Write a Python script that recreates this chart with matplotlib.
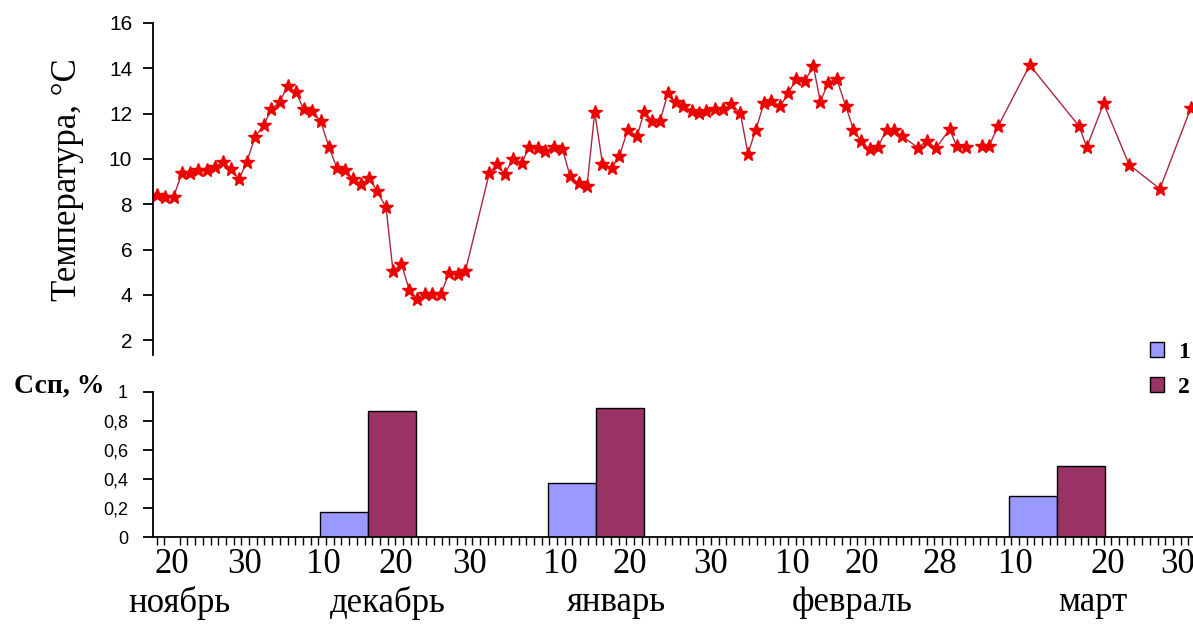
import matplotlib
matplotlib.use("Agg")
import matplotlib.pyplot as plt
import numpy as np
from matplotlib.patches import Patch

# day axis: 1 = 1 Nov, 31 = 1 Dec, 62 = 1 Jan, 93 = 1 Feb, 121 = 1 Mar
line_day = [18.0, 19.1, 20.2, 21.3, 22.3, 23.4, 24.5, 25.6, 26.6, 27.7,
            28.7, 29.7, 30.8, 31.9, 32.9, 34.0, 35.0, 36.1, 37.1, 38.2,
            39.3, 40.4, 41.4, 42.5, 43.5, 44.5, 45.6, 46.6, 47.8, 48.7,
            49.8, 50.8, 51.8, 52.8, 53.8, 54.9, 56.0, 57.1, 58.1, 61.2,
            62.2, 63.2, 64.3, 65.4, 66.4, 67.5, 68.5, 69.6, 70.7, 71.7,
            72.8, 73.9, 74.9, 75.9, 77.1, 78.1, 79.2, 80.4, 81.3, 82.4,
            83.4, 84.4, 85.4, 86.4, 87.5, 88.5, 89.4, 90.5, 91.6, 92.6,
            93.8, 94.8, 95.8, 96.9, 97.8, 99.0, 100.0, 101.1, 102.2, 103.3,
            104.2, 105.2, 106.3, 107.5, 108.5, 109.5, 110.6, 111.7, 112.8, 113.8,
            114.8, 116.9, 118.0, 119.2, 121.0, 121.9, 123.1, 124.0, 125.2, 126.1,
            127.3, 131.4, 137.8, 138.8, 141.0, 144.3, 148.3, 152.3]
line_temp = [8.40, 8.33, 8.33, 9.39, 9.39, 9.50, 9.50, 9.63, 9.87, 9.54,
             9.11, 9.87, 10.98, 11.49, 12.19, 12.52, 13.22, 12.94, 12.20, 12.11,
             11.67, 10.51, 9.61, 9.50, 9.12, 8.89, 9.14, 8.60, 7.86, 5.06,
             5.36, 4.24, 3.84, 4.06, 4.02, 4.02, 4.99, 4.94, 5.05, 9.36,
             9.76, 9.33, 10.02, 9.83, 10.51, 10.47, 10.36, 10.51, 10.45, 9.24,
             8.92, 8.80, 12.06, 9.80, 9.61, 10.13, 11.30, 11.00, 12.06, 11.67,
             11.69, 12.90, 12.50, 12.35, 12.13, 12.04, 12.13, 12.20, 12.20, 12.41,
             12.04, 10.24, 11.27, 12.48, 12.57, 12.33, 12.90, 13.53, 13.45, 14.10,
             12.52, 13.34, 13.55, 12.34, 11.30, 10.78, 10.42, 10.54, 11.30, 11.27,
             11.00, 10.50, 10.80, 10.47, 11.31, 10.57, 10.54, np.nan, 10.57, 10.57,
             11.45, 14.14, 11.45, 10.52, 12.45, 9.75, 8.68, 12.23]

bar_center = [45.45, 75.1, 134.9]
ssp_1 = [0.17, 0.37, 0.28]
ssp_2 = [0.87, 0.89, 0.49]
series_names = ["1", "2"]

tick_day = [20, 29.4, 39.6, 49.1, 58.7, 70.4, 79.5, 89.9, 100.6, 109.6,
            119.7, 129.5, 141.6, 150.6]
tick_text = ["20", "30", "10", "20", "30", "10", "20", "30", "10", "20",
             "28", "10", "20", "30"]
month_day = [21.0, 48.0, 77.7, 108.4, 139.6]
month_text = ["ноябрь", "декабрь", "январь", "февраль", "март"]

SERIF = "Liberation Serif"
SANS = "Liberation Sans"
W, H = 1193, 624


def box(l, t, r, b):
    return [l / W, 1 - b / H, (r - l) / W, (b - t) / H]


fig = plt.figure(figsize=(W / 100, H / 100), dpi=100)
ax_t = fig.add_axes(box(153, 23, 1193, 355))
ax_b = fig.add_axes(box(153, 392, 1193, 537))
xlim = (17.53, 152.6)

# temperature line
ax_t.plot(line_day, line_temp, color="#A8283C", lw=1.0, marker="*", ms=10,
          mfc="#EE0000", mec="#EE0000")
ax_t.set_xlim(xlim)
ax_t.set_ylim(1.35, 16)
ax_t.set_yticks(range(2, 17, 2))
ax_t.set_xticks([])
for s in ["top", "right", "bottom"]:
    ax_t.spines[s].set_visible(False)
ax_t.spines["left"].set_linewidth(1.3)
ax_t.tick_params(axis="y", length=7, width=1.3, labelsize=15, pad=8)
for lbl in ax_t.get_yticklabels():
    lbl.set_fontfamily(SANS)

# bars
w = 6.25
c = np.array(bar_center)
ax_b.bar(c - w / 2, ssp_1, width=w, color="#9999FF", edgecolor="black", lw=1.0)
ax_b.bar(c + w / 2, ssp_2, width=w, color="#993366", edgecolor="black", lw=1.0)
ax_b.set_xlim(xlim)
ax_b.set_ylim(0, 1)
ax_b.set_yticks([0, 0.2, 0.4, 0.6, 0.8, 1.0])
ax_b.set_yticklabels(["0", "0,2", "0,4", "0,6", "0,8", "1"])
for s in ["top", "right"]:
    ax_b.spines[s].set_visible(False)
ax_b.spines["left"].set_linewidth(1.3)
ax_b.spines["bottom"].set_linewidth(1.3)
ax_b.tick_params(axis="y", length=7, width=1.3, labelsize=13, pad=11)
for lbl in ax_b.get_yticklabels():
    lbl.set_fontfamily(SANS)

ax_b.set_xticks(np.arange(18, 153), minor=True)
ax_b.tick_params(axis="x", which="minor", length=6, width=1.0, direction="out")
ax_b.set_xticks(tick_day)
ax_b.set_xticklabels(tick_text)
ax_b.tick_params(axis="x", which="major", length=0, pad=8, labelsize=25)
for lbl in ax_b.get_xticklabels():
    lbl.set_fontfamily(SERIF)

for d, m in zip(month_day, month_text):
    ax_b.text(d, -0.455, m, transform=ax_b.get_xaxis_transform(),
              ha="center", va="center", fontsize=25, family=SERIF)

fig.text(68 / W, 1 - 180 / H, "Температура, °C", rotation=90, ha="center",
         va="center", fontsize=25, family=SERIF)
fig.text(14 / W, 1 - 386 / H, "Ссп, %", ha="left", va="center",
         fontsize=20, family=SERIF, weight="bold")

handles = [Patch(fc="#9999FF", ec="black"), Patch(fc="#993366", ec="black")]
fig.legend(handles, series_names, loc="upper left",
           bbox_to_anchor=(1150 / W, 1 - 342 / H), frameon=False,
           prop={"family": SERIF, "weight": "bold", "size": 17},
           handlelength=0.6, handleheight=0.6, handletextpad=0.6,
           labelspacing=0.6, borderpad=0, borderaxespad=0)

fig.savefig("out.png", dpi=100)
